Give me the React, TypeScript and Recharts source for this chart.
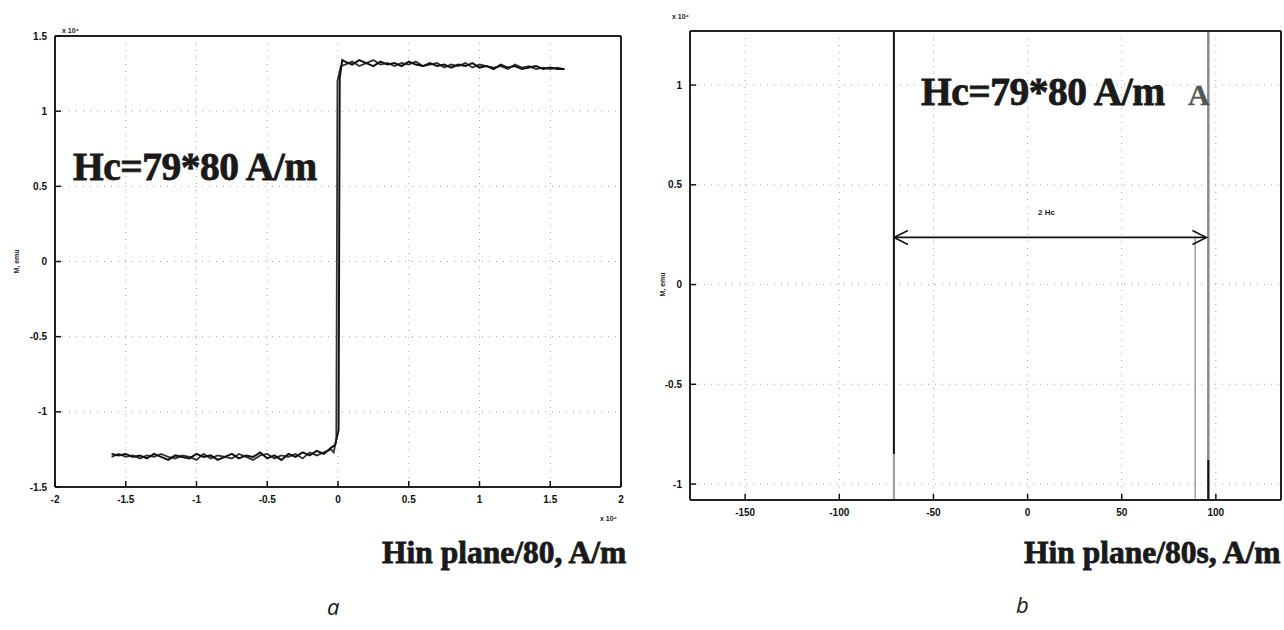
import React from 'react';
import { LineChart, Line, XAxis, YAxis, CartesianGrid } from 'recharts';

// ---- panel a : field in units of 10^4 (H/80), M in units of 10^4 ----
const lowerField = [
  -1.6, -1.55, -1.5, -1.45, -1.4, -1.35, -1.3, -1.25, -1.2, -1.15, -1.1, -1.05, -1.0, -0.95, -0.9, -0.85,
  -0.8, -0.75, -0.7, -0.65, -0.6, -0.55, -0.5, -0.45, -0.4, -0.35, -0.3, -0.25, -0.2, -0.15, -0.1, -0.05,
];
const upperField = [
  0.05, 0.1, 0.15, 0.2, 0.25, 0.3, 0.35, 0.4, 0.45, 0.5, 0.55, 0.6, 0.65, 0.7, 0.75, 0.8,
  0.85, 0.9, 0.95, 1.0, 1.05, 1.1, 1.15, 1.2, 1.25, 1.3, 1.35, 1.4, 1.45, 1.5, 1.55, 1.6,
];
// ascending branch
const upLowerM = [
  -1.28, -1.29, -1.28, -1.3, -1.29, -1.31, -1.28, -1.3, -1.32, -1.29, -1.3, -1.31, -1.28, -1.3, -1.29, -1.32,
  -1.3, -1.28, -1.31, -1.29, -1.3, -1.27, -1.31, -1.29, -1.32, -1.28, -1.3, -1.27, -1.29, -1.26, -1.28, -1.24,
];
const upJumpField = [-0.02, 0.004, 0.012, 0.03];
const upJumpM = [-1.22, -1.12, 1.22, 1.34];
const upUpperM = [
  1.33, 1.31, 1.34, 1.32, 1.3, 1.33, 1.31, 1.32, 1.3, 1.33, 1.31, 1.3, 1.32, 1.3, 1.31, 1.29,
  1.31, 1.3, 1.32, 1.29, 1.3, 1.28, 1.31, 1.29, 1.3, 1.28, 1.29, 1.3, 1.28, 1.29, 1.28, 1.28,
];
// descending branch (listed in ascending field order, drawn reversed)
const downUpperM = [
  1.31, 1.33, 1.3, 1.32, 1.34, 1.31, 1.32, 1.3, 1.32, 1.31, 1.33, 1.3, 1.31, 1.32, 1.29, 1.31,
  1.3, 1.32, 1.29, 1.31, 1.3, 1.29, 1.3, 1.28, 1.31, 1.29, 1.3, 1.28, 1.29, 1.28, 1.29, 1.28,
];
const downJumpField = [0.02, -0.004, -0.012, -0.03];
const downJumpM = [1.3, 1.2, -1.18, -1.27];
const downLowerM = [
  -1.3, -1.28, -1.3, -1.29, -1.31, -1.29, -1.3, -1.28, -1.3, -1.31, -1.29, -1.3, -1.32, -1.28, -1.31, -1.29,
  -1.3, -1.31, -1.28, -1.3, -1.32, -1.29, -1.28, -1.31, -1.29, -1.3, -1.28, -1.31, -1.27, -1.29, -1.27, -1.25,
];
const aXTicks = [-2, -1.5, -1, -0.5, 0, 0.5, 1, 1.5, 2];
const aYTicks = [-1.5, -1, -0.5, 0, 0.5, 1, 1.5];

// ---- panel b : field in A/m /80, M in units of 10^4 ----
const leftSwitchH = [-71, -71];
const leftSwitchBlackM = [1.4, -0.85];
const leftSwitchGrayM = [-0.85, -1.2];
const rightSwitchH = [96, 96];
const rightSwitchGrayM = [1.4, -1.2];
const rightSwitchBlackM = [-0.88, -1.2];
const innerH = [89, 89];
const innerM = [0.236, -1.2];
const arrowH = [-71, 95];
const arrowM = [0.236, 0.236];
const bXTicks = [-150, -100, -50, 0, 50, 100];
const bYTicks = [-1, -0.5, 0, 0.5, 1];

const pts = (h: number[], m: number[]) => h.map((x, i) => ({ h: x, m: m[i] }));

const upBranch = [
  ...pts(lowerField, upLowerM),
  ...pts(upJumpField, upJumpM),
  ...pts(upperField, upUpperM),
];
const downBranch = [
  ...pts(upperField, downUpperM).reverse(),
  ...pts(downJumpField, downJumpM),
  ...pts(lowerField, downLowerM).reverse(),
];

const tickFont = { fontFamily: 'Liberation Sans', fontSize: 10, fontWeight: 700 };
const MARGIN = 8;

const BottomTick = (props: any) => {
  const { x, y, payload } = props;
  return (
    <g>
      <line x1={x} y1={y - MARGIN} x2={x} y2={y - MARGIN - 6} stroke="#111" strokeWidth={1.5} />
      <text x={x} y={y} dy={8} textAnchor="middle" fill="#111" {...tickFont}>
        {payload.value}
      </text>
    </g>
  );
};

const LeftTick = (props: any) => {
  const { x, y, payload } = props;
  return (
    <g>
      <line x1={x + MARGIN} y1={y} x2={x + MARGIN + 6} y2={y} stroke="#111" strokeWidth={1.5} />
      <text x={x} y={y} dy={3.5} textAnchor="end" fill="#111" {...tickFont}>
        {payload.value}
      </text>
    </g>
  );
};

const ArrowDot = (props: any) => {
  const { cx, cy, index } = props;
  const d = index === 0 ? 1 : -1;
  return (
    <path
      key={`ad-${index}`}
      d={`M${cx + d * 14},${cy - 7} L${cx},${cy} L${cx + d * 14},${cy + 7}`}
      fill="none"
      stroke="#111"
      strokeWidth={1.5}
    />
  );
};

const text = (style: React.CSSProperties, content: React.ReactNode) => (
  <div style={{ position: 'absolute', whiteSpace: 'nowrap', color: '#1a1a1a', lineHeight: 1, ...style }}>{content}</div>
);

const serifBold: React.CSSProperties = {
  fontFamily: 'Liberation Serif',
  fontWeight: 700,
  WebkitTextStroke: '0.8px #1a1a1a',
};
const small: React.CSSProperties = { fontFamily: 'Liberation Sans', fontWeight: 700, fontSize: 7 };
const frame = { stroke: '#222', strokeWidth: 2 };
const innerTick = { stroke: '#111', strokeWidth: 1.5 };

export default function App() {
  return (
    <div style={{ position: 'absolute', left: 0, top: 0, width: 1284, height: 630, background: '#fff', overflow: 'hidden' }}>
      {/* panel a */}
      <div style={{ position: 'absolute', left: 0, top: 0 }}>
        <LineChart width={640} height={630} margin={{ top: 36, right: 19, left: 0, bottom: 0 }}>
          <CartesianGrid stroke="#aaa" strokeDasharray="1 6" />
          <XAxis
            dataKey="h"
            type="number"
            domain={[-2, 2]}
            ticks={aXTicks}
            height={143}
            tickLine={false}
            tickSize={0}
            tickMargin={MARGIN}
            tick={<BottomTick />}
            axisLine={frame}
            allowDataOverflow
          />
          <XAxis xAxisId="t" type="number" orientation="top" domain={[-2, 2]} ticks={aXTicks} height={1} mirror tick={false} tickSize={5} tickLine={innerTick} axisLine={frame} />
          <YAxis
            dataKey="m"
            type="number"
            domain={[-1.5, 1.5]}
            ticks={aYTicks}
            width={55}
            tickLine={false}
            tickSize={0}
            tickMargin={MARGIN}
            tick={<LeftTick />}
            axisLine={frame}
            allowDataOverflow
          />
          <YAxis yAxisId="r" type="number" orientation="right" domain={[-1.5, 1.5]} ticks={aYTicks} width={1} mirror tick={false} tickSize={5} tickLine={innerTick} axisLine={frame} />
          <Line data={downBranch} dataKey="m" stroke="#333" strokeWidth={1.8} dot={false} isAnimationActive={false} />
          <Line data={upBranch} dataKey="m" stroke="#111" strokeWidth={2} dot={false} isAnimationActive={false} />
        </LineChart>
      </div>

      {/* panel b */}
      <div style={{ position: 'absolute', left: 640, top: 0 }}>
        <LineChart width={644} height={630} margin={{ top: 31, right: 3, left: 0, bottom: 0 }}>
          <CartesianGrid stroke="#aaa" strokeDasharray="1 6" />
          <XAxis
            dataKey="h"
            type="number"
            domain={[-179.3, 134.6]}
            ticks={bXTicks}
            height={130}
            tickLine={false}
            tickSize={0}
            tickMargin={MARGIN}
            tick={<BottomTick />}
            axisLine={frame}
            allowDataOverflow
          />
          <XAxis xAxisId="t" type="number" orientation="top" domain={[-179.3, 134.6]} ticks={bXTicks} height={1} mirror tick={false} tickSize={5} tickLine={innerTick} axisLine={frame} />
          <YAxis
            dataKey="m"
            type="number"
            domain={[-1.08, 1.271]}
            ticks={bYTicks}
            width={50}
            tickLine={false}
            tickSize={0}
            tickMargin={MARGIN}
            tick={<LeftTick />}
            axisLine={frame}
            allowDataOverflow
          />
          <YAxis yAxisId="r" type="number" orientation="right" domain={[-1.08, 1.271]} ticks={bYTicks} width={1} mirror tick={false} tickSize={5} tickLine={innerTick} axisLine={frame} />
          <Line data={pts(rightSwitchH, rightSwitchGrayM)} dataKey="m" stroke="#8a8a8a" strokeWidth={2.5} dot={false} isAnimationActive={false} />
          <Line data={pts(rightSwitchH, rightSwitchBlackM)} dataKey="m" stroke="#111" strokeWidth={2} dot={false} isAnimationActive={false} />
          <Line data={pts(innerH, innerM)} dataKey="m" stroke="#777" strokeWidth={1} dot={false} isAnimationActive={false} />
          <Line data={pts(leftSwitchH, leftSwitchBlackM)} dataKey="m" stroke="#111" strokeWidth={2} dot={false} isAnimationActive={false} />
          <Line data={pts(leftSwitchH, leftSwitchGrayM)} dataKey="m" stroke="#999" strokeWidth={2} dot={false} isAnimationActive={false} />
          <Line data={pts(arrowH, arrowM)} dataKey="m" stroke="#111" strokeWidth={1.8} dot={<ArrowDot />} isAnimationActive={false} />
        </LineChart>
      </div>

      {/* annotations */}
      {text({ ...serifBold, fontSize: 39.5, left: 73, top: 148, letterSpacing: -0.5 }, 'Hc=79*80 A/m')}
      {text({ ...serifBold, fontSize: 39.5, left: 921, top: 73, letterSpacing: -0.5 }, 'Hc=79*80 A/m')}
      {text({ ...serifBold, fontSize: 30, left: 1188, top: 80, color: '#555', WebkitTextStroke: '0.3px #555' }, 'A')}
      {text({ ...serifBold, fontSize: 31.5, left: 382, top: 537 }, 'Hin plane/80, A/m')}
      {text({ ...serifBold, fontSize: 31.5, left: 1024, top: 537 }, 'Hin plane/80s, A/m')}
      {text({ ...small, fontSize: 8, left: 1038, top: 209 }, '2 Hc')}
      {text({ ...small, left: 62, top: 27 }, 'x 10⁴')}
      {text({ ...small, left: 600, top: 515 }, 'x 10⁴')}
      {text({ ...small, left: 672, top: 13 }, 'x 10⁴')}
      {text({ ...small, left: 4, top: 258, transform: 'rotate(-90deg)' }, 'M, emu')}
      {text({ ...small, left: 650, top: 281, transform: 'rotate(-90deg)' }, 'M, emu')}
      {text({ fontFamily: 'Open Sans', fontStyle: 'italic', fontSize: 22, left: 327, top: 595 }, 'a')}
      {text({ fontFamily: 'Open Sans', fontStyle: 'italic', fontSize: 22, left: 1016, top: 593 }, 'b')}
    </div>
  );
}
